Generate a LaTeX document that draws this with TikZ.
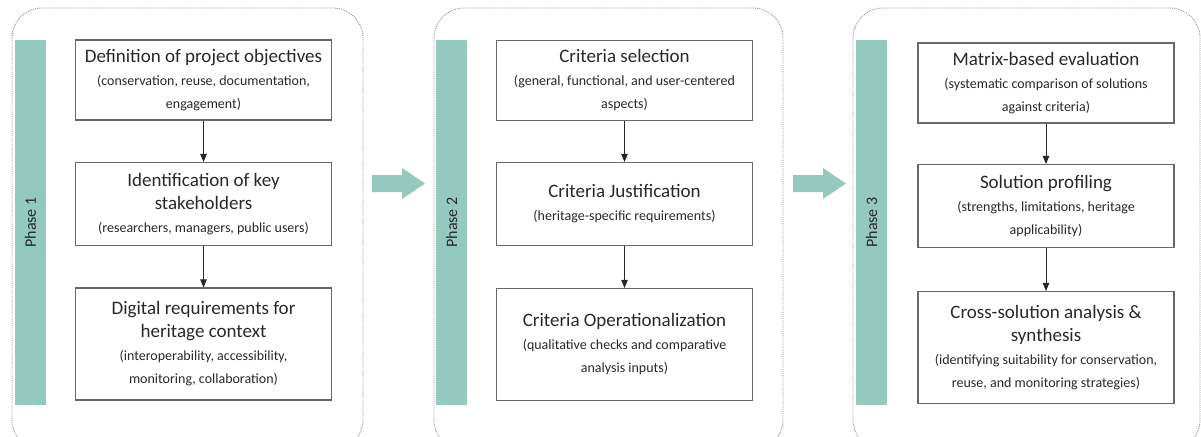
\documentclass[tikz,border=0pt]{standalone}
\usepackage{fontspec}
\setmainfont{Carlito}
\usetikzlibrary{arrows.meta}

\definecolor{phasegreen}{RGB}{148,201,190}
\definecolor{boxline}{RGB}{105,105,105}
\definecolor{textgray}{RGB}{40,40,40}

\newcommand{\boxnote}{\fontsize{14}{23}\selectfont}

\tikzset{
  stepbox/.style={draw=boxline, line width=1.1pt, align=center, inner sep=2pt,
    minimum width=256pt, text=textgray, font=\fontsize{19}{23}\selectfont},
  phasebar/.style={fill=phasegreen, rotate=90, minimum width=365pt,
    minimum height=31pt, inner sep=0pt, text=textgray, font=\fontsize{16}{18}\selectfont},
  panel/.style={draw=gray!85, line width=0.9pt, dash pattern=on 0.9pt off 1pt,
    rounded corners=30pt},
  link/.style={draw=black!85, line width=0.8pt, -{Triangle[length=8pt,width=6.5pt]}}
}

\begin{document}
\begin{tikzpicture}[x=1pt, y=-1pt]
  \useasboundingbox (0,0) rectangle (1201,436);
  \clip (0,0) rectangle (1201,436);

  \draw[panel] (12,8) rectangle (363,450);
  \draw[panel] (434,8) rectangle (783,450);
  \draw[panel] (853,8) rectangle (1200,450);

  \node[phasebar] (bar1) at (30.5,222.5) {Phase 1};
  \node[phasebar] (bar2) at (451.5,222.5) {Phase 2};
  \node[phasebar] (bar3) at (871.5,222.5) {Phase 3};

  \fill[phasegreen] (372,175) -- (402,175) -- (402,168) -- (425,183.5)
    -- (402,199) -- (402,192) -- (372,192) -- cycle;
  \fill[phasegreen] (793,175) -- (823,175) -- (823,168) -- (846,183.5)
    -- (823,199) -- (823,192) -- (793,192) -- cycle;

  \node[stepbox, minimum height=80pt] (objectives) at (203.5,80)
    {Definition of project objectives\\
     {\boxnote (conservation, reuse, documentation,}\\
     {\boxnote engagement)}};
  \node[stepbox, minimum height=83pt] (stakeholders) at (203.5,204)
    {Identification of key\\stakeholders\\
     {\boxnote (researchers, managers, public users)}};
  \node[stepbox, minimum height=112pt] (requirements) at (203.5,344)
    {Digital requirements for\\heritage context\\
     {\boxnote (interoperability, accessibility,}\\
     {\boxnote monitoring, collaboration)}};

  \node[stepbox, minimum height=80pt] (selection) at (624.5,80.5)
    {Criteria selection\\
     {\boxnote (general, functional, and user-centered}\\
     {\boxnote aspects)}};
  \node[stepbox, minimum height=83pt] (justification) at (624.5,204)
    {Criteria Justification\\
     {\boxnote (heritage-specific requirements)}};
  \node[stepbox, minimum height=112pt] (operational) at (624.5,344.5)
    {Criteria Operationalization\\
     {\boxnote (qualitative checks and comparative}\\
     {\boxnote analysis inputs)}};

  \node[stepbox, minimum height=80pt] (matrix) at (1046,83)
    {Matrix-based evaluation\\
     {\boxnote (systematic comparison of solutions}\\
     {\boxnote against criteria)}};
  \node[stepbox, minimum height=83pt] (profiling) at (1046,206)
    {Solution profiling\\
     {\boxnote (strengths, limitations, heritage}\\
     {\boxnote applicability)}};
  \node[stepbox, minimum height=112pt] (synthesis) at (1046,347.5)
    {Cross-solution analysis \&\\synthesis\\
     {\boxnote (identifying suitability for conservation,}\\
     {\boxnote reuse, and monitoring strategies)}};

  \draw[link] (objectives) -- (stakeholders);
  \draw[link] (stakeholders) -- (requirements);
  \draw[link] (selection) -- (justification);
  \draw[link] (justification) -- (operational);
  \draw[link] (matrix) -- (profiling);
  \draw[link] (profiling) -- (synthesis);

\end{tikzpicture}
\end{document}
